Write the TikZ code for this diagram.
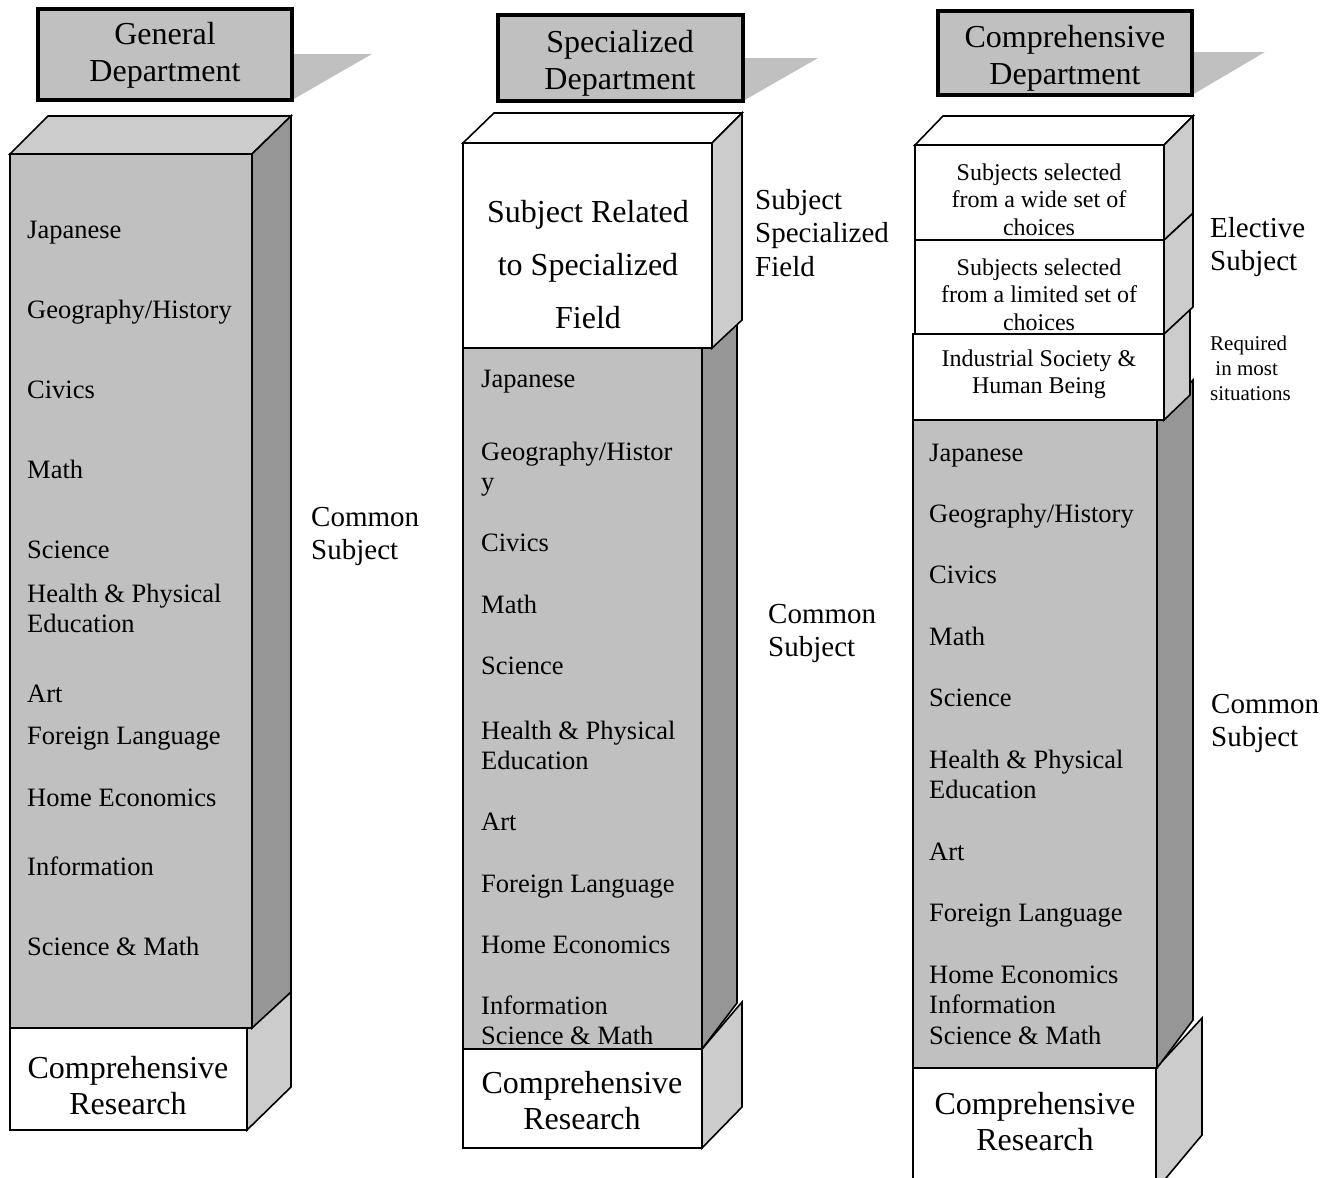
\documentclass[tikz,border=0pt]{standalone}
\usepackage{fontspec}
\setmainfont{Liberation Serif}
\usepackage{tikz}

\definecolor{frontgray}{HTML}{C0C0C0}
\definecolor{sidedark}{HTML}{969696}
\definecolor{sidelight}{HTML}{CCCCCC}

\tikzset{
  face/.style={draw, line width=1.6pt, line join=miter},
  hdrbox/.style={draw, line width=4pt, fill=frontgray},
  hdrtxt/.style={anchor=base, inner sep=0pt, align=center, font=\fontsize{32}{37}\selectfont},
  bigtxt/.style={anchor=base, inner sep=0pt, align=center, font=\fontsize{32}{36}\selectfont},
  subj/.style={anchor=base west, inner sep=0pt, align=left, font=\fontsize{26.5}{30.5}\selectfont},
  sidelbl/.style={anchor=base west, inner sep=0pt, align=left, font=\fontsize{29}{33.5}\selectfont},
  electxt/.style={anchor=base, inner sep=0pt, align=center, font=\fontsize{24}{27.5}\selectfont}
}

\begin{document}
\begin{tikzpicture}[x=1pt, y=-1pt]
                \useasboundingbox (0,0) rectangle (1339,1178);

                % general department
                \fill[frontgray] (292,54) -- (372,54) -- (292,100) -- cycle;
                \draw[hdrbox] (38,9) rectangle (292,100);
                \node[hdrtxt] (genhead) at (165,81) {General\\Department};
                \draw[face, fill=sidelight] (247,1028) -- (291,992) -- (291,1087) -- (247,1130) -- cycle;
                \draw[face, fill=white] (10,1028) rectangle (247,1130);
                \node[bigtxt] (genres) at (128,1114) {Comprehensive\\Research};
                \draw[face, fill=sidelight] (10,154) -- (48,116) -- (291,116) -- (252,154) -- cycle;
                \draw[face, fill=sidedark] (252,154) -- (291,116) -- (291,992) -- (252,1028) -- cycle;
                \draw[face, fill=frontgray] (10,154) rectangle (252,1028);
                \foreach \yy/\txt [count=\i] in {238/Japanese, 318/{Geography/History}, 398/Civics, 478/Math,
                    558/Science, 632.5/{Health \& Physical\\Education}, 702/Art, 744/Foreign Language,
                    806/Home Economics, 875/Information, 955/Science \& Math}
                    \node[subj] (gen\i) at (27,\yy) {\txt};
                \node[sidelbl] (gencommon) at (311,559.5) {Common\\Subject};

                % specialized department
                \fill[frontgray] (743,58) -- (818,58) -- (743,101) -- cycle;
                \draw[hdrbox] (498,15) rectangle (743,101);
                \node[hdrtxt] (spehead) at (620,89) {Specialized\\Department};
                \draw[face, fill=sidelight] (702,1049) -- (742,1002) -- (742,1107) -- (702,1148) -- cycle;
                \draw[face, fill=white] (463,1049) rectangle (702,1148);
                \node[bigtxt] (speres) at (582,1129) {Comprehensive\\Research};
                \draw[face, fill=sidedark] (702,348) -- (737,325) -- (737,1003) -- (702,1049) -- cycle;
                \draw[face, fill=frontgray] (463,348) rectangle (702,1049);
                \foreach \yy/\txt [count=\i] in {387/Japanese, 490.5/{Geography/Histor\\y}, 551/Civics, 613/Math,
                    674/Science, 769.5/{Health \& Physical\\Education}, 830/Art, 892/Foreign Language,
                    953/Home Economics, 1044.5/{Information\\Science \& Math}}
                    \node[subj] (spe\i) at (481,\yy) {\txt};
                \draw[face, fill=white] (463,143) -- (494,113) -- (742,113) -- (712,143) -- cycle;
                \draw[face, fill=sidelight] (712,143) -- (742,113) -- (742,320) -- (712,348) -- cycle;
                \draw[face, fill=white] (463,143) rectangle (712,348);
                \node[bigtxt, font=\fontsize{32}{53}\selectfont] (spefield) at (588,328) {Subject Related\\to Specialized\\Field};
                \node[sidelbl] (spelbl) at (755,276) {Subject\\Specialized\\Field};
                \node[sidelbl] (specommon) at (768,656.5) {Common\\Subject};

                % comprehensive department
                \fill[frontgray] (1192,52) -- (1265,52) -- (1192,95) -- cycle;
                \draw[hdrbox] (938,11) rectangle (1192,95);
                \node[hdrtxt] (comhead) at (1065,84) {Comprehensive\\Department};
                \draw[face, fill=sidelight] (1156,1068) -- (1202,1018) -- (1202,1135) -- (1156,1190) -- cycle;
                \draw[face, fill=white] (913,1068) rectangle (1156,1195);
                \node[bigtxt] (comres) at (1035,1150) {Comprehensive\\Research};
                \draw[face, fill=sidedark] (1157,420) -- (1193,380) -- (1193,1020) -- (1157,1068) -- cycle;
                \draw[face, fill=frontgray] (913,420) rectangle (1157,1068);
                \foreach \yy/\txt [count=\i] in {461/Japanese, 522/{Geography/History}, 583/Civics, 645/Math,
                    706/Science, 798.5/{Health \& Physical\\Education}, 860/Art, 921/Foreign Language,
                    1044/{Home Economics\\Information\\Science \& Math}}
                    \node[subj] (com\i) at (929,\yy) {\txt};
                \draw[face, fill=sidelight] (1164,334) -- (1190,309) -- (1190,395) -- (1164,420) -- cycle;
                \draw[face, fill=white] (913,334) rectangle (1164,420);
                \node[electxt] (comind) at (1039,393.5) {Industrial Society \&\\Human Being};
                \draw[face, fill=sidelight] (1164,240) -- (1193,213) -- (1193,307) -- (1164,334) -- cycle;
                \draw[face, fill=white] (915,240) rectangle (1164,334);
                \node[electxt] (comlim) at (1039,330) {Subjects selected\\from a limited set of\\choices};
                \draw[face, fill=white] (915,145) -- (943,116) -- (1193,116) -- (1164,145) -- cycle;
                \draw[face, fill=sidelight] (1164,145) -- (1193,116) -- (1193,213) -- (1164,240) -- cycle;
                \draw[face, fill=white] (915,145) rectangle (1164,240);
                \node[electxt] (comwide) at (1039,235) {Subjects selected\\from a wide set of\\choices};
                \node[sidelbl] (comelec) at (1210,270.5) {Elective\\Subject};
                \node[anchor=base west, inner sep=0pt, align=left, font=\fontsize{21}{25}\selectfont] (comreq) at (1210,400) {Required\\\hspace*{0.25em}in most\\situations};
                \node[sidelbl] (comcommon) at (1211,746.5) {Common\\Subject};
            \end{tikzpicture}
\end{document}
